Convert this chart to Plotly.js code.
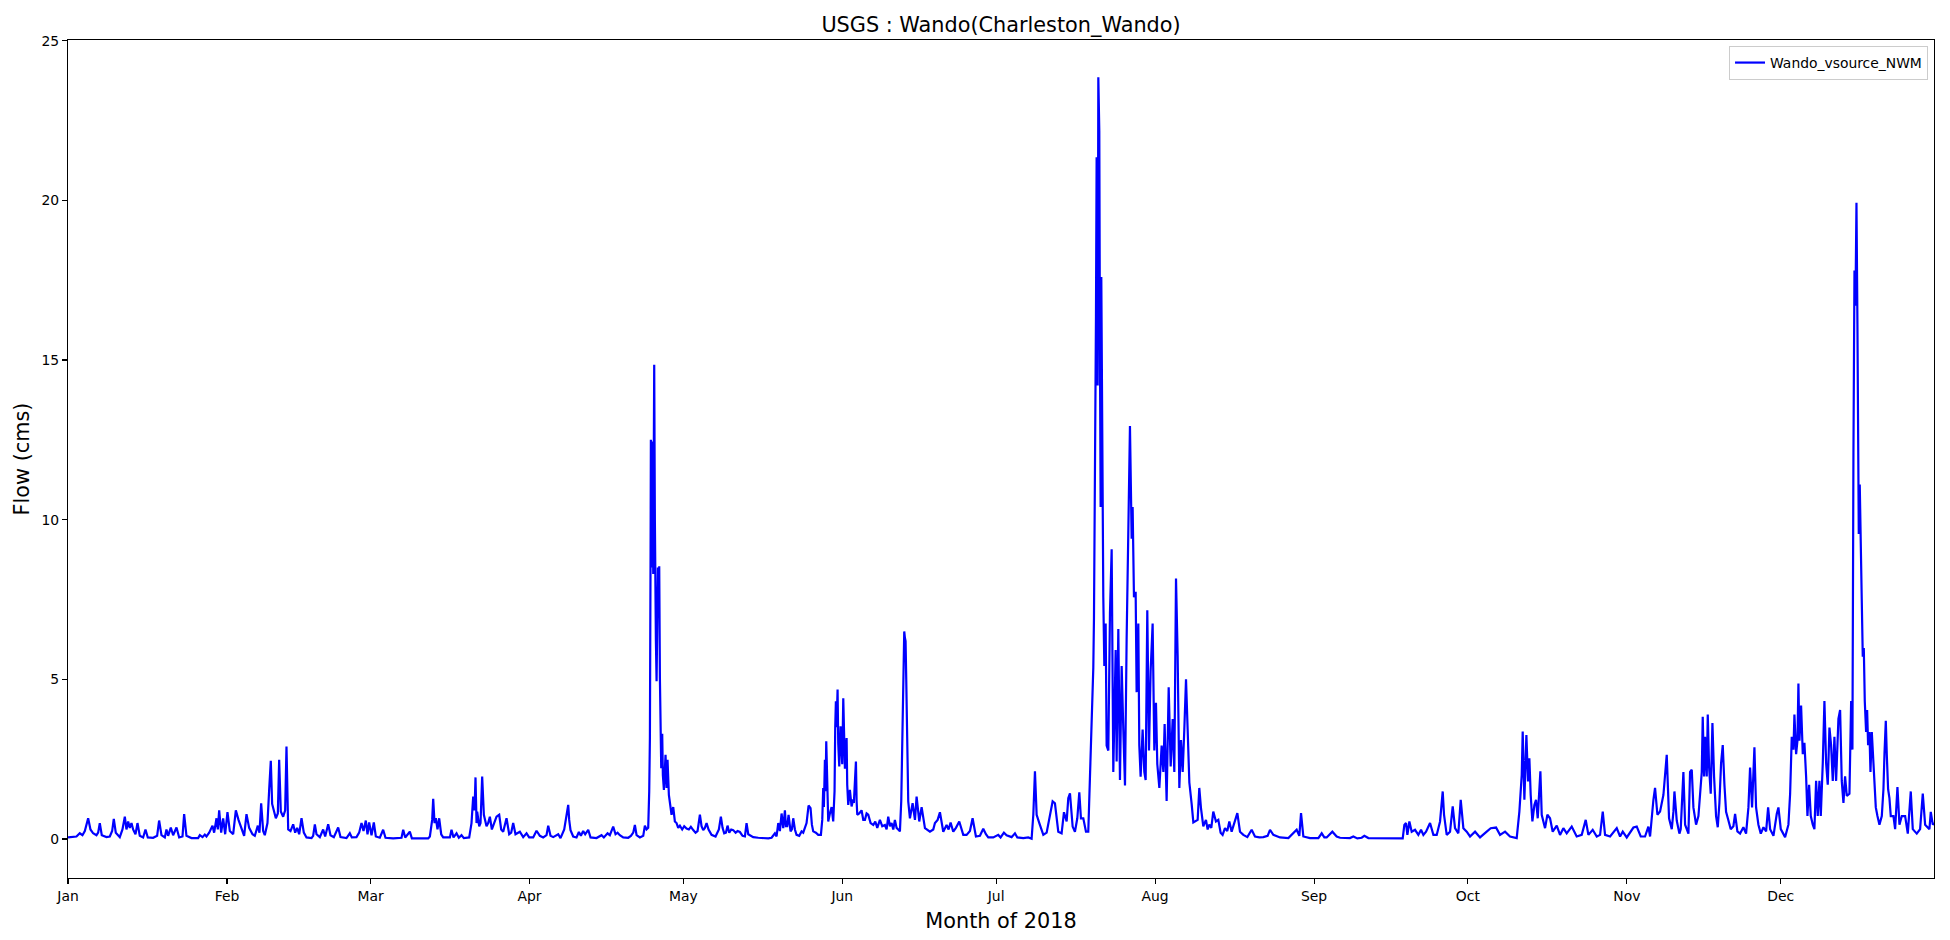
<!DOCTYPE html>
<html>
<head>
<meta charset="utf-8">
<script src="https://cdn.plot.ly/plotly-3.0.1.min.js"></script>
<style>
  html, body { margin: 0; padding: 0; background: #ffffff; overflow: hidden; }
  #chart { width: 1950px; height: 940px; }
</style>
</head>
<body>
<div id="chart"></div>
<script>
// Readings: [days since 2018-01-01 00:00, flow in cms]
const flowJanMar = [
  [0.00,0.05],[1.65,0.08],[2.30,0.18],[2.82,0.12],[3.28,0.25],[3.60,0.45],[3.93,0.65],[4.38,0.30],[4.90,0.18],[5.55,0.12],
  [5.88,0.20],[6.20,0.50],[6.59,0.12],[7.50,0.06],[8.15,0.08],[8.61,0.25],[8.93,0.63],[9.32,0.20],[10.10,0.06],[10.62,0.30],
  [11.08,0.70],[11.40,0.30],[11.73,0.55],[12.05,0.35],[12.38,0.50],[12.70,0.30],[13.16,0.15],[13.55,0.50],[14.00,0.10],[14.65,0.05],
  [15.11,0.30],[15.56,0.05],[16.60,0.04],[17.38,0.10],[17.77,0.58],[18.23,0.12],[18.88,0.05],[19.20,0.30],[19.53,0.10],[20.05,0.36],
  [20.50,0.12],[21.16,0.36],[21.68,0.05],[22.33,0.08],[22.65,0.78],[23.10,0.10],[24.08,0.03],[25.38,0.03],[25.71,0.12],[26.23,0.06],
  [26.68,0.14],[27.00,0.08],[27.53,0.20],[28.18,0.42],[28.50,0.20],[28.96,0.65],[29.22,0.30],[29.48,0.90],[29.87,0.20],[30.26,0.65],
  [30.65,0.15],[31.10,0.84],[31.56,0.25],[32.21,0.15],[32.73,0.90],[33.25,0.60],[33.83,0.30],[34.35,0.10],[34.81,0.78],[35.33,0.35],
  [35.98,0.15],[36.43,0.10],[37.02,0.42],[37.34,0.20],[37.67,1.12],[38.06,0.25],[38.38,0.12],[38.90,0.50],[39.23,1.54],[39.55,2.45],
  [39.81,1.10],[40.01,0.97],[40.53,0.65],[40.92,0.80],[41.18,2.48],[41.50,0.86],[41.96,0.70],[42.35,0.90],[42.61,2.90],[42.94,0.30],
  [43.39,0.25],[43.91,0.46],[44.30,0.20],[44.69,0.35],[45.08,0.15],[45.54,0.65],[45.99,0.20],[46.51,0.05],[47.49,0.03],[47.81,0.10],
  [48.14,0.46],[48.46,0.15],[49.11,0.06],[49.76,0.30],[50.15,0.08],[50.74,0.46],[51.19,0.12],[51.84,0.06],[52.69,0.36],[53.14,0.06],
  [54.31,0.03],[54.96,0.18],[55.35,0.05],[56.26,0.06],[56.78,0.20],[57.24,0.50],[57.63,0.25],[58.08,0.58],[58.41,0.15],[58.73,0.52],
  [59.19,0.12],[59.64,0.52],[60.03,0.08],[60.81,0.04],[61.46,0.29],[61.92,0.04],[63.41,0.02],[65.04,0.04],[65.37,0.29],[65.76,0.05],
  [66.66,0.23],[67.06,0.02],[68.62,0.01],[70.24,0.02],[70.57,0.08],[70.76,0.29],[71.02,0.60],[71.22,1.26],[71.48,0.50],[71.74,0.65],
  [72.06,0.30],[72.39,0.65],[72.78,0.15],[73.17,0.05],[74.47,0.05],[74.79,0.29],[75.18,0.05],[75.77,0.18],[76.22,0.04],[76.74,0.12],
  [77.20,0.03],[78.24,0.05],[78.50,0.30],[78.69,0.50],[79.02,1.33],[79.28,0.90],[79.47,1.93],[79.67,0.50],[79.80,0.86],[80.19,0.40],
  [80.45,0.50],[80.77,1.96],[81.10,0.76],[81.62,0.40],[81.94,0.50],[82.27,0.70],[82.66,0.30],[82.92,0.40],[83.31,0.60],[83.57,0.70],
  [84.09,0.76],[84.48,0.30],[84.87,0.23],[85.20,0.50],[85.52,0.65],[86.04,0.15],[86.43,0.20],[86.82,0.50],[87.27,0.15],[88.12,0.23],
  [88.77,0.06],[89.42,0.18],[89.94,0.05],[90.72,0.05]
];
const flowAprJun = [
  [91.37,0.26],[92.02,0.10],[92.67,0.05],[93.32,0.12],[93.65,0.42],[94.10,0.10],[94.62,0.06],[95.60,0.15],[96.05,0.03],[96.77,0.30],
  [97.09,0.60],[97.55,1.07],[97.74,0.60],[98.00,0.28],[98.52,0.08],[99.17,0.05],[99.63,0.22],[100.02,0.10],[100.47,0.25],[100.86,0.15],
  [101.45,0.29],[101.90,0.05],[103.07,0.03],[104.05,0.12],[104.50,0.05],[105.22,0.18],[105.67,0.12],[106.32,0.39],[106.78,0.15],[107.17,0.20],
  [107.62,0.12],[108.27,0.05],[109.25,0.04],[109.77,0.10],[110.23,0.20],[110.55,0.44],[110.88,0.12],[111.53,0.05],[112.18,0.10],[112.50,0.42],
  [112.83,0.30],[113.15,0.35],[113.35,1.50],[113.48,3.16],[113.61,9.00],[113.67,12.50],[113.87,8.50],[114.00,12.45],[114.13,8.30],[114.32,14.85],
  [114.45,10.00],[114.52,7.65],[114.65,6.20],[114.78,4.94],[114.91,6.50],[115.04,8.50],[115.17,7.00],[115.30,8.54],[115.43,5.04],[115.56,3.40],
  [115.69,2.22],[115.88,3.30],[116.01,2.00],[116.21,1.54],[116.40,2.30],[116.53,2.64],[116.73,1.60],[116.92,2.48],[117.18,1.38],[117.44,1.00],
  [117.70,0.76],[118.03,1.00],[118.35,0.55],[118.68,0.50],[119.00,0.35],[119.33,0.42],[119.78,0.30],[120.17,0.40],[120.63,0.33],[121.08,0.30],
  [121.47,0.38],[121.93,0.28],[122.38,0.20],[122.77,0.25],[123.23,0.76],[123.55,0.40],[123.88,0.28],[124.20,0.35],[124.53,0.50],[124.92,0.30],
  [125.50,0.13],[126.28,0.08],[126.93,0.30],[127.32,0.70],[127.65,0.35],[127.97,0.18],[128.30,0.20],[128.62,0.42],[128.95,0.20],[129.34,0.30],
  [129.73,0.28],[130.19,0.20],[130.58,0.25],[131.03,0.22],[131.55,0.10],[132.01,0.08],[132.33,0.50],[132.66,0.15],[132.98,0.12],[133.63,0.06],
  [134.61,0.04],[135.58,0.03],[136.56,0.02],[137.21,0.04],[137.53,0.10],[137.86,0.18],[138.18,0.08],[138.51,0.50],[138.83,0.25],[139.16,0.80],
  [139.48,0.34],[139.81,0.90],[140.00,0.40],[140.26,0.40],[140.52,0.76],[140.91,0.24],[141.17,0.30],[141.43,0.65],[141.76,0.30],[142.08,0.13],
  [142.60,0.10],[143.06,0.24],[143.38,0.20],[143.71,0.34],[144.03,0.50],[144.42,1.05],[144.81,0.97],[145.07,0.45],[145.33,0.24],[145.85,0.20],
  [146.31,0.13],[146.83,0.13],[147.09,0.60],[147.28,1.60],[147.41,1.00],[147.61,2.48],[147.74,1.50],[147.87,3.06],[148.06,1.50],[148.26,0.55],
  [148.58,0.80],[148.91,1.00],[149.23,0.55],[149.49,1.50],[149.62,3.50],[149.75,4.31],[149.88,3.50],[150.08,4.68],[150.21,3.00],[150.41,2.27],
  [150.66,3.53],[150.86,2.50],[150.99,2.34],[151.19,4.41],[151.31,3.00],[151.51,2.20],[151.84,3.16],[151.96,1.70],[152.16,1.07],[152.36,1.40],
  [152.48,1.54],[152.81,1.02],[153.07,1.20],[153.27,1.18],[153.53,2.00],[153.66,2.43],[153.79,1.20],[153.92,0.76],[154.30,0.80],[154.76,0.90],
  [155.09,0.60],[155.41,0.60],[155.74,0.80],[156.06,0.76],[156.52,0.50],[157.04,0.44],[157.43,0.55],[157.82,0.35],[158.34,0.60],[158.79,0.40],
  [159.31,0.44],[159.64,0.30],[159.96,0.70],[160.29,0.40],[160.61,0.50],[160.94,0.30],[161.26,0.60],[161.59,0.35],[161.91,0.30],[162.24,0.24],
  [162.50,1.20],[162.63,2.50],[162.76,3.68],[162.89,5.50],[163.08,6.50],[163.21,6.30],[163.34,6.20],[163.47,5.00],[163.53,4.41],[163.73,2.50],
  [163.86,1.18],[164.19,0.65],[164.71,1.12],[165.17,0.60],[165.49,1.33],[166.01,0.55],[166.47,1.00],[167.12,0.34],[168.09,0.23],[168.74,0.30],
  [169.07,0.50],[169.59,0.60],[170.04,0.84],[170.69,0.23],[171.34,0.44],[171.73,0.30],[172.12,0.52],[172.64,0.23],[173.16,0.35],[173.81,0.55],
  [174.27,0.30],[174.59,0.13],[175.24,0.13],[175.89,0.25],[176.41,0.65],[176.67,0.40],[177.06,0.08],[177.84,0.10],[178.49,0.32],[179.01,0.15],
  [179.47,0.05],[180.44,0.05]
];
const flowJulSep = [
  [181.42,0.13],[181.87,0.05],[182.52,0.20],[183.04,0.12],[184.02,0.06],[184.67,0.18],[185.13,0.05],[186.30,0.03],[187.27,0.05],[187.92,0.01],
  [188.25,0.76],[188.57,2.12],[188.90,0.76],[189.42,0.50],[189.87,0.30],[190.20,0.13],[190.85,0.20],[191.17,0.50],[191.50,0.70],[192.02,1.18],
  [192.47,1.12],[192.80,0.60],[193.12,0.23],[193.77,0.18],[194.23,0.84],[194.75,0.55],[195.07,1.28],[195.40,1.43],[195.92,0.39],[196.37,0.23],
  [196.83,0.65],[197.22,1.46],[197.54,0.65],[198.00,0.65],[198.52,0.23],[198.97,0.23],[199.30,1.80],[199.62,3.58],[199.95,5.36],[200.08,6.91],
  [200.28,10.90],[200.47,16.37],[200.60,21.35],[200.80,14.20],[200.93,23.85],[201.12,22.18],[201.25,15.20],[201.38,10.40],[201.51,17.60],[201.71,10.90],
  [201.90,7.57],[202.10,5.42],[202.36,6.75],[202.55,2.93],[202.88,2.77],[203.20,7.08],[203.53,9.07],[203.85,2.10],[204.31,5.92],[204.50,2.43],
  [204.83,6.58],[205.15,1.85],[205.48,5.42],[205.80,3.43],[206.13,1.68],[206.45,6.25],[206.78,10.23],[207.10,12.93],[207.43,9.40],[207.62,10.40],
  [207.88,7.57],[208.21,7.74],[208.40,4.60],[208.73,6.75],[208.92,2.93],[209.18,1.95],[209.57,3.43],[209.90,2.10],[210.16,1.85],[210.48,7.16],
  [210.81,2.77],[211.13,5.26],[211.52,6.75],[211.85,2.77],[212.17,4.27],[212.43,2.35],[212.83,1.60],[213.28,2.93],[213.61,2.10],[213.86,3.60],
  [214.25,1.19],[214.65,4.75],[215.04,2.27],[215.43,3.76],[215.75,2.10],[216.08,8.16],[216.40,5.75],[216.73,1.60],[217.05,3.10],[217.38,2.10],
  [217.70,3.43],[218.03,5.00],[218.35,3.43],[218.68,1.77],[219.13,1.10],[219.46,0.52],[220.30,0.60],[220.62,1.60],[220.95,0.97],[221.40,0.40],
  [221.92,0.60],[222.25,0.30],[222.57,0.45],[222.96,0.35],[223.35,0.86],[223.87,0.55],[224.33,0.60],[224.78,0.20],[225.17,0.13],[225.63,0.34],
  [226.08,0.25],[226.48,0.55],[226.93,0.23],[227.26,0.40],[227.58,0.55],[228.04,0.81],[228.56,0.23],[229.21,0.13],[229.99,0.06],[230.83,0.29],
  [231.48,0.08],[232.33,0.05],[233.11,0.06],[233.95,0.10],[234.41,0.29],[235.06,0.13],[236.36,0.05],[237.99,0.03],[239.61,0.29],[240.13,0.10],
  [240.46,0.81],[240.91,0.08],[242.21,0.03],[243.84,0.03],[244.49,0.18],[245.01,0.05],[245.46,0.05],[246.57,0.23],[247.41,0.08],[248.06,0.04],
  [250.01,0.03],[250.66,0.08],[251.44,0.02],[252.29,0.04],[252.81,0.10],[253.59,0.03],[260.29,0.02],[260.61,0.44],[260.94,0.50],[261.20,0.13],
  [261.59,0.55],[262.04,0.23],[262.69,0.29],[263.34,0.13],[263.86,0.29],[264.32,0.13],[264.84,0.23],[265.62,0.50],[266.27,0.13],[266.92,0.13],
  [267.57,0.55],[268.09,1.49],[268.35,0.76],[268.87,0.13],[269.52,0.23],[270.04,1.02],[270.49,0.34],[271.14,0.18],[271.60,1.23],[272.12,0.34],
  [272.77,0.23]
];
const flowOctDec = [
  [273.42,0.08],[274.40,0.23],[275.37,0.05],[276.67,0.23],[277.45,0.34],[278.49,0.36],[279.27,0.13],[280.25,0.23],[281.22,0.08],[282.52,0.03],
  [283.04,0.86],[283.50,2.00],[283.69,3.37],[284.02,1.23],[284.41,3.26],[284.73,1.80],[284.99,2.53],[285.25,1.38],[285.58,0.55],[285.97,1.07],
  [286.29,1.23],[286.62,0.65],[287.14,2.12],[287.40,0.76],[288.05,0.34],[288.50,0.76],[289.02,0.65],[289.54,0.23],[290.33,0.42],[290.97,0.13],
  [291.62,0.34],[292.27,0.18],[293.25,0.39],[294.22,0.08],[295.20,0.13],[295.98,0.60],[296.50,0.13],[297.34,0.29],[298.13,0.08],[298.78,0.13],
  [299.30,0.86],[299.75,0.13],[300.73,0.08],[302.03,0.34],[302.68,0.08],[303.20,0.23],[303.98,0.05],[305.28,0.36],[305.93,0.39],[306.71,0.08],
  [307.55,0.08],[308.20,0.39],[308.53,0.08],[309.18,1.23],[309.50,1.60],[309.96,0.76],[310.48,0.86],[311.13,1.38],[311.78,2.64],[312.23,0.65],
  [312.76,0.31],[313.08,0.85],[313.28,1.49],[313.73,0.58],[314.25,0.17],[314.51,0.31],[315.03,2.10],[315.36,0.45],[316.01,0.17],[316.33,2.10],
  [316.66,2.17],[316.98,0.99],[317.50,0.45],[317.96,0.72],[318.28,1.28],[318.61,2.10],[318.80,3.83],[319.06,1.96],[319.26,3.20],[319.58,1.96],
  [319.78,3.90],[320.04,2.24],[320.36,1.42],[320.69,3.63],[321.01,1.96],[321.40,0.72],[321.73,0.37],[322.05,1.13],[322.38,2.38],[322.70,2.94],
  [323.03,1.70],[323.35,0.85],[323.81,0.58],[324.26,0.31],[324.78,0.40],[325.11,0.79],[325.56,0.24],[326.08,0.17],[326.73,0.37],[327.25,0.17],
  [327.71,0.99],[328.03,2.24],[328.42,0.99],[328.88,2.87],[329.20,0.99],[329.66,0.45],[330.12,0.17],[330.64,0.37],[331.16,0.24],[331.55,0.99],
  [331.94,0.31],[332.59,0.10],[333.24,0.79],[333.56,0.99],[334.02,0.31],[334.86,0.06],[335.51,0.45],[335.84,1.42],[336.16,3.20],[336.49,2.80],
  [336.68,3.90],[337.01,2.66],[337.27,3.08],[337.46,4.87],[337.66,3.08],[337.98,4.18],[338.31,2.66],[338.63,3.01],[338.96,1.96],[339.22,0.72],
  [339.54,1.70],[339.87,0.72],[340.26,0.45],[340.58,0.31],[340.91,1.82],[341.23,0.72],[341.56,1.82],[341.82,0.72],[342.21,2.38],[342.53,4.32],
  [342.86,2.38],[343.18,1.70],[343.51,3.49],[343.83,2.94],[344.16,1.82],[344.48,3.20],[344.81,1.82],[345.26,3.76],[345.59,4.04],[345.91,1.82],
  [346.24,1.13],[346.56,1.96],[346.89,1.35],[347.41,1.42],[347.74,4.32],[347.99,2.80],[348.19,12.10],[348.39,17.80],[348.58,16.70],[348.78,19.92],
  [348.97,16.10],[349.10,11.22],[349.23,9.55],[349.42,11.10],[349.62,8.30],[349.81,7.50],[350.01,5.71],[350.21,5.98],[350.40,4.32],[350.66,3.35],
  [350.86,4.04],[351.05,2.94],[351.31,3.35],[351.51,2.10],[351.77,3.35],[351.96,2.66],[352.22,1.82],[352.55,0.99],[352.87,0.72],[353.26,0.45],
  [353.72,0.72],[354.04,1.56],[354.24,2.66],[354.50,3.70],[354.69,2.66],[354.95,1.56],[355.21,1.28],[355.47,0.72],[355.99,0.72],[356.32,0.31],
  [356.77,1.63],[357.16,0.45],[357.62,0.72],[358.27,0.72],[358.79,0.17],[359.37,1.49],[359.76,0.31],[360.54,0.17],[361.19,0.31],[361.52,0.99],
  [361.71,1.42],[362.17,0.45],[363.01,0.31],[363.27,0.85],[363.66,0.45],[363.95,0.50]
];

const monthTickDates = ['2018-01-01','2018-02-01','2018-03-01','2018-04-01','2018-05-01','2018-06-01',
                        '2018-07-01','2018-08-01','2018-09-01','2018-10-01','2018-11-01','2018-12-01'];
const monthTickLabels = ['Jan','Feb','Mar','Apr','May','Jun','Jul','Aug','Sep','Oct','Nov','Dec'];
const flowTickValues = [0, 5, 10, 15, 20, 25];
const seriesName = 'Wando_vsource_NWM';
const chartTitle = 'USGS : Wando(Charleston_Wando)';

const allReadings = [].concat(flowJanMar, flowAprJun, flowJulSep, flowOctDec);
const startMs = Date.UTC(2018, 0, 1);
function dayToStamp(d) {
  const ms = startMs + Math.round(d * 1440) * 60000;
  return new Date(ms).toISOString().slice(0, 19).replace('T', ' ');
}
const xs = allReadings.map(r => dayToStamp(r[0]));
const ys = allReadings.map(r => r[1]);

const FONT = 'DejaVu Sans, Liberation Sans, sans-serif';

const trace = {
  type: 'scatter',
  mode: 'lines',
  x: xs,
  y: ys,
  name: seriesName,
  line: { color: '#0000ff', width: 2.2 },
  showlegend: true
};

const axisCommon = {
  showline: true, linecolor: '#000000', linewidth: 1.1, mirror: true,
  ticks: 'outside', ticklen: 5, tickwidth: 1.1, tickcolor: '#000000',
  showgrid: false, zeroline: false,
  tickfont: { family: FONT, size: 13.9, color: '#000000' }
};

const layout = {
  width: 1950, height: 940,
  autosize: false,
  paper_bgcolor: '#ffffff', plot_bgcolor: '#ffffff',
  font: { family: FONT, color: '#000000' },
  margin: { l: 68, r: 16, t: 40, b: 62, pad: 0, autoexpand: false },
  title: {
    text: chartTitle,
    font: { family: FONT, size: 20.8, color: '#000000' },
    xref: 'paper', x: 0.5, xanchor: 'center',
    yref: 'paper', y: 1, yanchor: 'bottom',
    pad: { b: 8 }
  },
  xaxis: Object.assign({}, axisCommon, {
    type: 'date',
    range: [dayToStamp(0), dayToStamp(363.9)],
    autorange: false,
    tickmode: 'array',
    tickvals: monthTickDates,
    ticktext: monthTickLabels,
    automargin: true,
    title: { text: 'Month of 2018', font: { family: FONT, size: 20.8, color: '#000000' }, standoff: 10 }
  }),
  yaxis: Object.assign({}, axisCommon, {
    range: [-1.22, 25.02],
    autorange: false,
    tickmode: 'array',
    tickvals: flowTickValues,
    ticktext: flowTickValues.map(String),
    automargin: true,
    title: { text: 'Flow (cms)', font: { family: FONT, size: 20.8, color: '#000000' }, standoff: 6 }
  }),
  showlegend: true,
  legend: {
    x: 0.9968, y: 0.9928, xanchor: 'right', yanchor: 'top',
    bgcolor: 'rgba(255,255,255,0.8)', bordercolor: '#cccccc', borderwidth: 1,
    font: { family: FONT, size: 13.9, color: '#000000' }
  }
};

Plotly.newPlot('chart', [trace], layout, { displayModeBar: false, staticPlot: true });
</script>
</body>
</html>
